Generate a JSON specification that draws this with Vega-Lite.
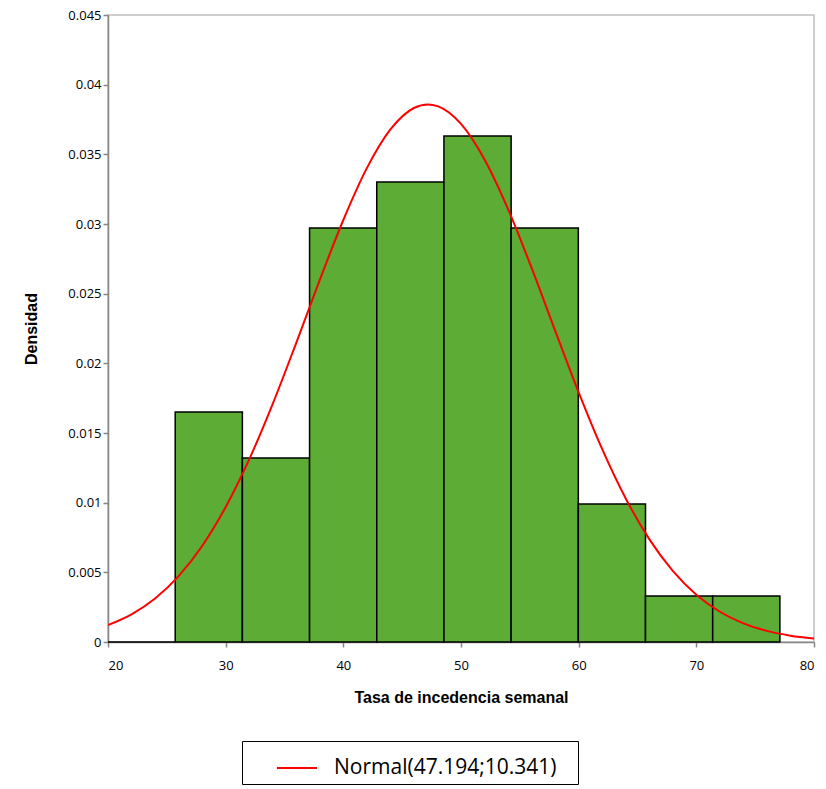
{
  "$schema": "https://vega.github.io/schema/vega-lite/v6.json",
  "width": 706,
  "height": 627,
  "autosize": "none",
  "padding": {"left": 108, "top": 15, "right": 12, "bottom": 147},
  "background": "white",
  "config": {
    "view": {"stroke": "#c0c0c0", "strokeWidth": 1.5},
    "axis": {
      "grid": false,
      "domainColor": "#868686",
      "domainWidth": 1.5,
      "tickColor": "#868686",
      "tickWidth": 1.5,
      "tickSize": 5,
      "labelFont": "Open Sans",
      "labelFontSize": 13,
      "labelColor": "#000000",
      "titleFont": "Liberation Sans",
      "titleFontSize": 16,
      "titleFontWeight": "bold",
      "titleColor": "#000000"
    }
  },
  "datasets": {
    "hist": [
      {"start": 20.0, "end": 25.71, "density": 0},
      {"start": 25.71, "end": 31.42, "density": 0.016509},
      {"start": 31.42, "end": 37.13, "density": 0.013207},
      {"start": 37.13, "end": 42.84, "density": 0.029716},
      {"start": 42.84, "end": 48.55, "density": 0.033018},
      {"start": 48.55, "end": 54.26, "density": 0.036320},
      {"start": 54.26, "end": 59.97, "density": 0.029716},
      {"start": 59.97, "end": 65.68, "density": 0.009905},
      {"start": 65.68, "end": 71.39, "density": 0.003302},
      {"start": 71.39, "end": 77.1, "density": 0.003302}
    ],
    "curve": [
      {"x": 20, "y": 0.001215},
      {"x": 22, "y": 0.001984},
      {"x": 24, "y": 0.003118},
      {"x": 26, "y": 0.004724},
      {"x": 28, "y": 0.006892},
      {"x": 30, "y": 0.009684},
      {"x": 32, "y": 0.013108},
      {"x": 34, "y": 0.017094},
      {"x": 36, "y": 0.021473},
      {"x": 38, "y": 0.025985},
      {"x": 40, "y": 0.030288},
      {"x": 42, "y": 0.034008},
      {"x": 44, "y": 0.036783},
      {"x": 46, "y": 0.038324},
      {"x": 47.194, "y": 0.038580},
      {"x": 48, "y": 0.038463},
      {"x": 50, "y": 0.037186},
      {"x": 52, "y": 0.034631},
      {"x": 54, "y": 0.031066},
      {"x": 56, "y": 0.026847},
      {"x": 58, "y": 0.022348},
      {"x": 60, "y": 0.017921},
      {"x": 62, "y": 0.013842},
      {"x": 64, "y": 0.010300},
      {"x": 66, "y": 0.007382},
      {"x": 68, "y": 0.005098},
      {"x": 70, "y": 0.003390},
      {"x": 72, "y": 0.002172},
      {"x": 74, "y": 0.001340},
      {"x": 76, "y": 0.000797},
      {"x": 78, "y": 0.000456},
      {"x": 80, "y": 0.000252}
    ]
  },
  "layer": [
    {
      "data": {"name": "hist"},
      "mark": {"type": "bar", "fill": "#5cac35", "stroke": "#000000", "strokeWidth": 1.5},
      "encoding": {
        "x": {
          "field": "start",
          "type": "quantitative",
          "scale": {"domain": [20, 80], "nice": false, "zero": false},
          "axis": {"values": [20, 30, 40, 50, 60, 70, 80], "title": "Tasa de incedencia semanal", "labelPadding": 12, "titlePadding": 17}
        },
        "x2": {"field": "end"},
        "y": {
          "field": "density",
          "type": "quantitative",
          "scale": {"domain": [0, 0.045], "nice": false},
          "axis": {"values": [0, 0.005, 0.01, 0.015, 0.02, 0.025, 0.03, 0.035, 0.04, 0.045], "format": "~g", "title": "Densidad", "titlePadding": 28}
        },
        "y2": {"datum": 0}
      }
    },
    {
      "data": {"name": "curve"},
      "mark": {"type": "line", "interpolate": "monotone", "strokeWidth": 2, "clip": true},
      "encoding": {
        "x": {"field": "x", "type": "quantitative"},
        "y": {"field": "y", "type": "quantitative"},
        "color": {
          "datum": "Normal(47.194;10.341)",
          "type": "nominal",
          "scale": {"range": ["#ff0000"]},
          "legend": {
            "title": "\u00a0",
            "titleOrient": "right",
            "titlePadding": 16,
            "titleFontSize": 16,
            "orient": "none",
            "legendX": 134,
            "legendY": 726,
            "symbolType": "stroke",
            "symbolSize": 1600,
            "symbolStrokeWidth": 2,
            "symbolOffset": 28,
            "labelOffset": 16,
            "labelFont": "Open Sans",
            "labelFontSize": 21,
            "labelColor": "#000000",
            "labelLimit": 400,
            "strokeColor": "#000000",
            "padding": 6,
            "offset": 0
          }
        }
      }
    }
  ]
}
